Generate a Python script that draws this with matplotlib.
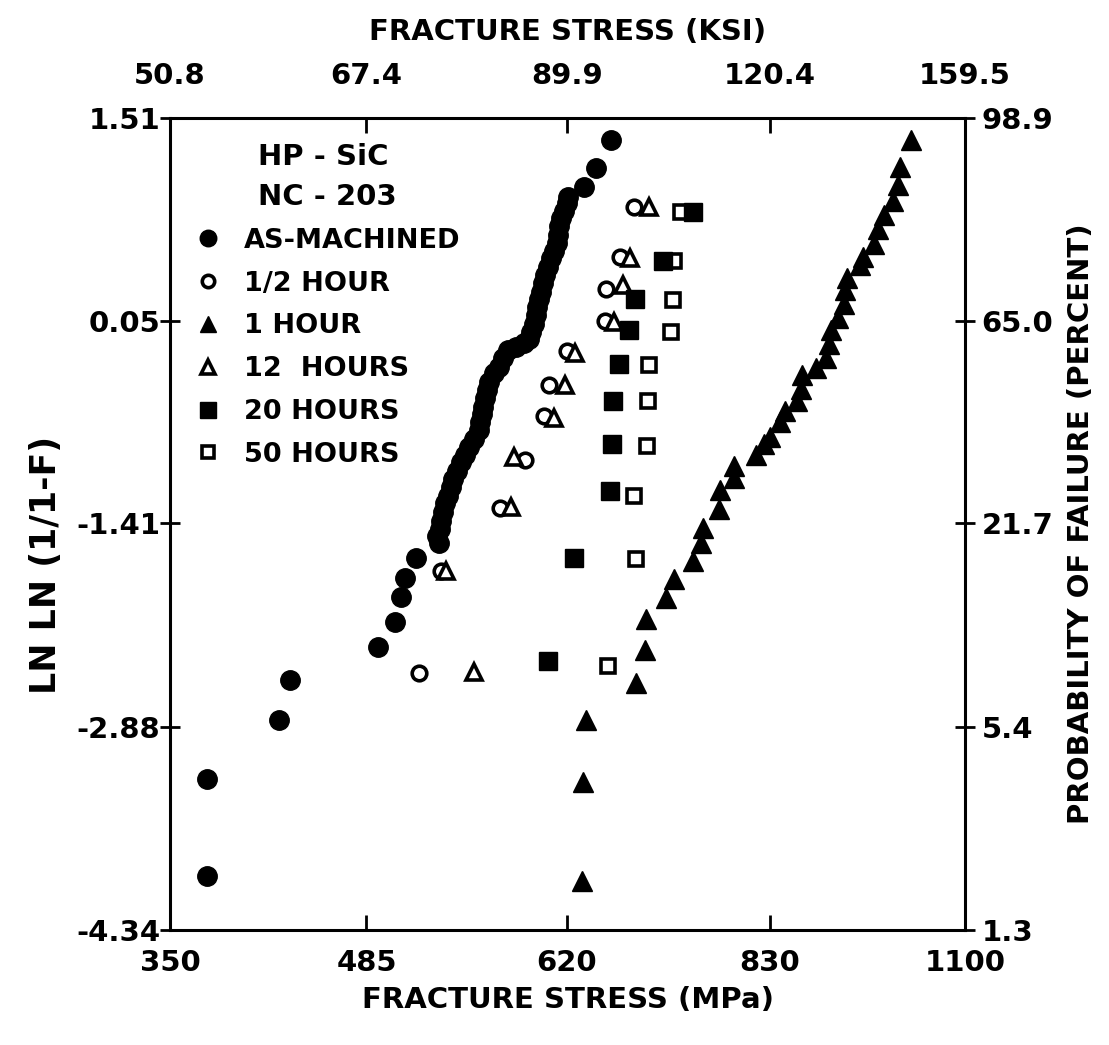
import matplotlib.pyplot as plt
from matplotlib.ticker import NullLocator

plt.rcParams['font.family'] = 'DejaVu Sans'
plt.rcParams['font.weight'] = 'bold'
plt.rcParams['axes.labelweight'] = 'bold'

# axis ticks (bottom/top share positions, left/right share positions)
ksi_ticks = [50.8, 67.4, 89.9, 120.4, 159.5]
mpa_labels = ['350', '485', '620', '830', '1100']
lnln_ticks = [-4.34, -2.88, -1.41, 0.05, 1.51]
pct_labels = ['1.3', '5.4', '21.7', '65.0', '98.9']

# fracture stress (MPa) and ln ln(1/(1-F))
am_mpa = [369.6, 369.6, 409.9, 416.4, 472.7, 484.0, 488.5, 491.0, 499.2, 515.8,
          514.2, 516.3, 517.6, 519.0, 520.3, 522.3, 524.5, 526.7, 529.7, 532.6,
          535.7, 538.6, 542.3, 546.1, 547.5, 549.0, 549.6, 551.0, 552.4, 554.7,
          558.7, 562.6, 565.7, 569.7, 576.2, 582.7, 587.5, 589.2, 591.7, 593.2,
          594.0, 595.5, 597.1, 598.7, 601.2, 603.6, 606.0, 608.5, 611.0, 612.6,
          613.3, 614.9, 617.3, 619.8, 621.5, 635.9, 646.5, 660.9]
am_lnln = [-3.95, -3.25, -2.83, -2.54, -2.30, -2.12, -1.94, -1.80, -1.66, -1.55,
           -1.50, -1.45, -1.39, -1.33, -1.26, -1.21, -1.15, -1.09, -1.03, -0.97,
           -0.92, -0.86, -0.80, -0.74, -0.68, -0.62, -0.57, -0.51, -0.45, -0.39,
           -0.33, -0.28, -0.22, -0.16, -0.14, -0.11, -0.08, -0.03, 0.03, 0.09,
           0.15, 0.21, 0.26, 0.32, 0.38, 0.44, 0.50, 0.55, 0.61, 0.67,
           0.73, 0.79, 0.84, 0.90, 0.94, 1.01, 1.15, 1.35]

half_mpa = [682.5, 669.0, 656.0, 654.7, 620.6, 603.9, 600.1, 583.7, 563.2, 517.6, 500.9]
half_lnln = [0.87, 0.51, 0.28, 0.05, -0.17, -0.41, -0.64, -0.95, -1.30, -1.75, -2.49]

h1_mpa = [633.8, 634.7, 637.2, 684.9, 693.9, 695.2, 715.3, 723.1, 743.7, 752.1,
          753.9, 772.0, 772.7, 789.2, 789.0, 814.0, 822.9, 831.1, 842.9, 848.8,
          863.1, 868.9, 869.7, 887.4, 900.0, 903.6, 907.0, 915.8, 924.5, 925.4,
          927.7, 945.2, 950.2, 965.2, 970.2, 978.8, 992.0, 998.7, 1001.0, 1017.8]
h1_lnln = [-3.99, -3.27, -2.83, -2.56, -2.32, -2.10, -1.95, -1.81, -1.68, -1.55,
           -1.44, -1.31, -1.17, -1.08, -1.00, -0.92, -0.84, -0.79, -0.68, -0.60,
           -0.53, -0.44, -0.34, -0.29, -0.22, -0.12, -0.02, 0.07, 0.17, 0.27,
           0.36, 0.45, 0.51, 0.60, 0.71, 0.81, 0.91, 1.03, 1.16, 1.35]

h12_mpa = [698.3, 678.7, 672.4, 663.4, 627.0, 618.6, 608.8, 574.7, 572.2, 521.2, 542.1]
h12_lnln = [0.87, 0.50, 0.31, 0.04, -0.18, -0.41, -0.65, -0.93, -1.29, -1.75, -2.48]

h20_mpa = [743.8, 711.6, 684.2, 678.1, 668.0, 663.0, 661.8, 659.8, 626.1, 603.4]
h20_lnln = [0.83, 0.48, 0.21, -0.02, -0.26, -0.53, -0.84, -1.18, -1.66, -2.40]

h50_mpa = [731.1, 723.9, 722.7, 720.2, 698.3, 697.0, 695.9, 683.2, 684.5, 658.3]
h50_lnln = [0.83, 0.48, 0.20, -0.03, -0.27, -0.53, -0.85, -1.21, -1.67, -2.44]

tick_mpa = [k * 6.895 for k in ksi_ticks]

fig = plt.figure(figsize=(11.09, 10.45), dpi=100)
ax = fig.add_axes([0.1533, 0.110, 0.7169, 0.777])

open_style = dict(ls='none', mfc='white', mec='k', mew=2.6)
ax.plot(am_mpa, am_lnln, 'o', ls='none', ms=14, color='k', label='AS-MACHINED', zorder=3)
ax.plot(half_mpa, half_lnln, 'o', ms=10.5, label='1/2 HOUR', zorder=3, **open_style)
ax.plot(h1_mpa, h1_lnln, '^', ls='none', ms=14, color='k', label='1 HOUR', zorder=3)
ax.plot(h12_mpa, h12_lnln, '^', ms=12, label='12  HOURS', zorder=4, **open_style)
ax.plot(h50_mpa, h50_lnln, 's', ms=10.5, zorder=3, **open_style)
ax.plot(h20_mpa, h20_lnln, 's', ls='none', ms=13, color='k', label='20 HOURS', zorder=4)
# empty handle so the legend keeps the original order
ax.plot([], [], 's', ms=10.5, label='50 HOURS', **open_style)

ax.set_xscale('log')
ax.set_xlim(tick_mpa[0], tick_mpa[-1])
ax.set_ylim(lnln_ticks[0], lnln_ticks[-1])
ax.set_xticks(tick_mpa)
ax.set_xticklabels(mpa_labels)
ax.xaxis.set_minor_locator(NullLocator())
ax.set_yticks(lnln_ticks)
ax.set_yticklabels([f'{v:.2f}' for v in lnln_ticks])
ax.tick_params(axis='x', direction='in', length=11, width=2, labelsize=21, pad=14)
ax.tick_params(axis='y', direction='inout', length=14, width=2, labelsize=21, pad=0)
ax.set_xlabel('FRACTURE STRESS (MPa)', fontsize=21, labelpad=6)
ax.set_ylabel('LN LN (1/1-F)', fontsize=25)
ax.yaxis.set_label_coords(-0.135, 0.45)
for s in ax.spines.values():
    s.set_linewidth(2.2)

top = ax.twiny()
top.set_xscale('log')
top.set_xlim(ax.get_xlim())
top.set_xticks(tick_mpa)
top.set_xticklabels([f'{k}' for k in ksi_ticks])
top.xaxis.set_minor_locator(NullLocator())
top.tick_params(axis='x', direction='in', length=11, width=2, labelsize=21, pad=20)
top.set_xlabel('FRACTURE STRESS (KSI)', fontsize=21, labelpad=16)

right = ax.twinx()
right.set_ylim(ax.get_ylim())
right.set_yticks(lnln_ticks)
right.set_yticklabels(pct_labels)
right.tick_params(axis='y', direction='inout', length=14, width=2, labelsize=21, pad=5)
right.set_ylabel('PROBABILITY OF FAILURE (PERCENT)', fontsize=21, labelpad=10)

leg = ax.legend(loc='upper left', bbox_to_anchor=(194 / 1109, 1 - 143 / 1045),
                bbox_transform=fig.transFigure, frameon=False, fontsize=19.5,
                title='HP - SiC\nNC - 203', title_fontsize=21, borderpad=0,
                borderaxespad=0, handlelength=1.0, handletextpad=0.85,
                labelspacing=0.62, markerscale=0.85)
leg.get_title().set_linespacing(1.55)
leg.get_title().set_fontweight('bold')

fig.savefig('out.png', dpi=100)
